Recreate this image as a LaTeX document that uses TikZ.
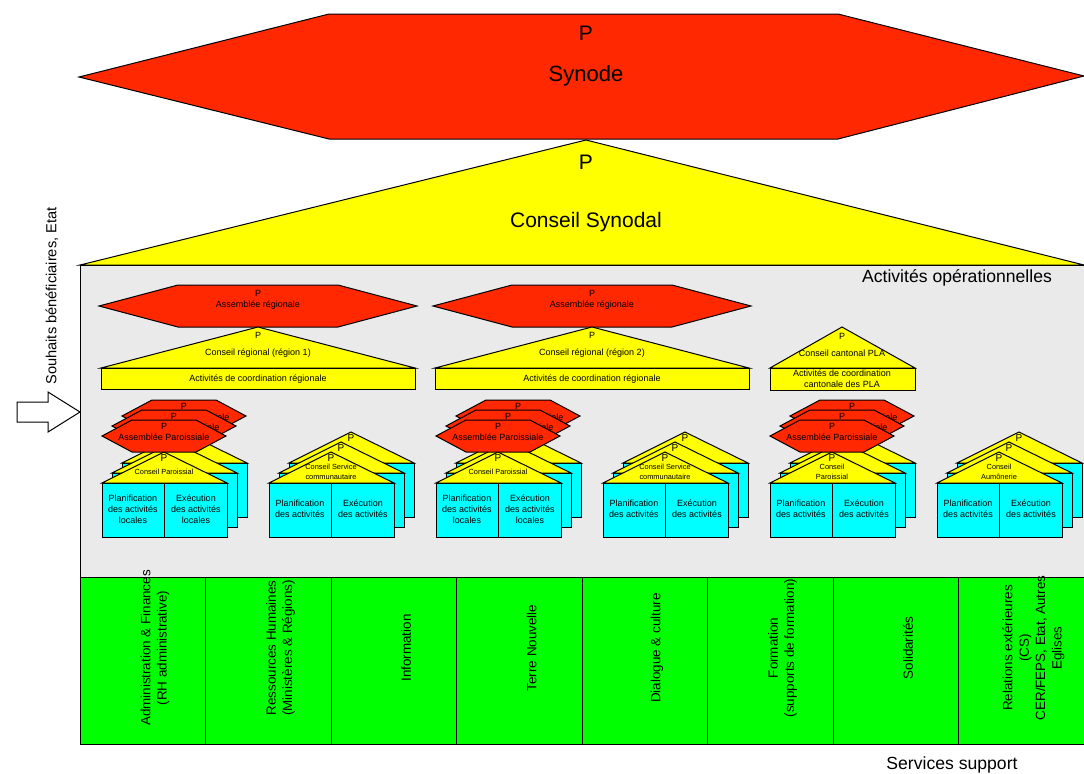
\documentclass[tikz,border=0pt]{standalone}
\usepackage{fontspec}
\setmainfont{Liberation Sans}
\usepackage{tikz}

\definecolor{synred}{RGB}{255,40,0}
\definecolor{synyellow}{RGB}{255,255,0}
\definecolor{actcyan}{RGB}{0,255,255}
\definecolor{supgreen}{RGB}{0,255,0}
\definecolor{opgray}{RGB}{234,234,234}

\begin{document}
\begin{tikzpicture}[x=0.5pt,y=-0.5pt,line width=0.5pt,line join=miter,
    redbox/.style={draw=black,fill=synred},
    yellowbox/.style={draw=black,fill=synyellow},
    cyanbox/.style={draw=black,fill=actcyan},
    txt/.style={inner sep=0pt,align=center},
    bigtxt/.style={txt,font=\fontsize{10.5}{12.5}\selectfont},
    midtxt/.style={txt,font=\fontsize{8.8}{10.5}\selectfont},
    suptxt/.style={txt,rotate=90,font=\fontsize{6.7}{8.2}\selectfont},
    smalltxt/.style={txt,font=\fontsize{4.5}{5.6}\selectfont},
    tinytxt/.style={txt,font=\fontsize{3.7}{5}\selectfont}]
  \useasboundingbox (0,0) rectangle (1084,773);

  % synode and conseil synodal
  \draw[redbox] (79,77) -- (329,14) -- (838,14) -- (1084,76) -- (838,139) -- (329,139) -- cycle;
  \node[bigtxt] (synP) at (586,33) {P};
  \node[bigtxt,font=\fontsize{11}{13}\selectfont] (synode) at (586,76) {Synode};
  \draw[yellowbox] (80,265) -- (586,140) -- (1084,265) -- cycle;
  \node[bigtxt] (csP) at (586,162) {P};
  \node[bigtxt] (cs) at (586,222) {Conseil Synodal};

  % activites operationnelles
  \draw[fill=opgray] (80,265) rectangle (1084,577);
  \node[midtxt] (ops) at (957,278) {Activités opérationnelles};

  % services support
  \draw[fill=supgreen] (80,577) rectangle (1084,744);
  \foreach \i/\lab in {0/{Administration \& Finances\\(RH administrative)},
      1/{Ressources Humaines\\(Ministères \& Régions)},
      2/{Information},
      3/{Terre Nouvelle},
      4/{Dialogue \& culture},
      5/{Formation\\(supports de formation)},
      6/{Solidarités},
      7/{Relations extérieures\\(CS)\\CER/FEPS, Etat, Autres\\Eglises}} {
    \draw (80+125.5*\i,577) -- (80+125.5*\i,744);
    \node[suptxt] (sup\i) at (80+125.5*\i+75,648) {\lab};
  }
  \node[midtxt] (services) at (952,765) {Services support};

  % regions
  \foreach \cx/\num in {258/1,592/2} {
    \draw[redbox] (\cx-159,306) -- (\cx-80,285) -- (\cx+80,285) -- (\cx+159,306) -- (\cx+80,327) -- (\cx-80,327) -- cycle;
    \node[smalltxt] (arP\num) at (\cx,293) {P};
    \node[smalltxt] (ar\num) at (\cx,305) {Assemblée régionale};
    \draw[yellowbox] (\cx-157,368) -- (\cx,327) -- (\cx+157,368) -- cycle;
    \node[smalltxt] (crP\num) at (\cx,335) {P};
    \node[smalltxt] (cr\num) at (\cx,353) {Conseil régional (région \num)};
    \draw[yellowbox] (\cx-157,368) rectangle (\cx+157,389);
    \node[smalltxt] (acr\num) at (\cx,379) {Activités de coordination régionale};
  }
  % cantonal PLA
  \draw[yellowbox] (770,368) -- (842,327) -- (915,368) -- cycle;
  \node[smalltxt] (ccP) at (842,336) {P};
  \node[smalltxt] (cc) at (842,353) {Conseil cantonal PLA};
  \draw[yellowbox] (770,368) rectangle (915,390);
  \node[smalltxt] (acc) at (842,379) {Activités de coordination\\cantonale des PLA};

  % paroisses and services
  \foreach \x/\cons/\loc/\hex [count=\s] in {
      102/{Conseil Paroissial}/{\\locales}/1,
      269/{Conseil Service\\communautaire}/{}/0,
      436/{Conseil Paroissial}/{\\locales}/1,
      603/{Conseil Service\\communautaire}/{}/0,
      770/{Conseil\\Paroissial}/{}/1,
      937/{Conseil\\Aumônerie}/{}/0} {
    \foreach \k in {2,1,0} {
      \begin{scope}[shift={(10*\k,-10*\k)}]
        \draw[cyanbox] (\x,483) rectangle (\x+125,537);
        \draw (\x+62,483) -- (\x+62,537);
        \draw[yellowbox] (\x,483) -- (\x+62,452) -- (\x+125,483) -- cycle;
        \node[smalltxt,font=\fontsize{5}{6}\selectfont] (hP\s\k) at (\x+62,458) {P};
      \end{scope}
    }
    \node[tinytxt] (hc\s) at (\x+62,472) {\cons};
    \node[smalltxt] (hpl\s) at (\x+31,509) {Planification\\des activités\loc};
    \node[smalltxt] (hex\s) at (\x+94,509) {Exécution\\des activités\loc};
    \ifnum\hex=1
      \foreach \k in {2,1,0} {
        \begin{scope}[shift={(10*\k,-10*\k)}]
          \draw[redbox] (\x,436) -- (\x+30,420) -- (\x+94,420) -- (\x+124,436) -- (\x+94,452) -- (\x+30,452) -- cycle;
          \node[smalltxt] (apP\s\k) at (\x+62,426) {P};
          \node[smalltxt] (ap\s\k) at (\x+62,437) {Assemblée Paroissiale};
        \end{scope}
      }
    \fi
  }

  % souhaits
  \draw[fill=white] (17,402) -- (48,402) -- (48,392) -- (80,412) -- (48,432) -- (48,422) -- (17,422) -- cycle;
  \node[txt,rotate=90,font=\fontsize{7.3}{9}\selectfont] (souhaits) at (52,296) {Souhaits bénéficiaires, Etat};
\end{tikzpicture}
\end{document}
